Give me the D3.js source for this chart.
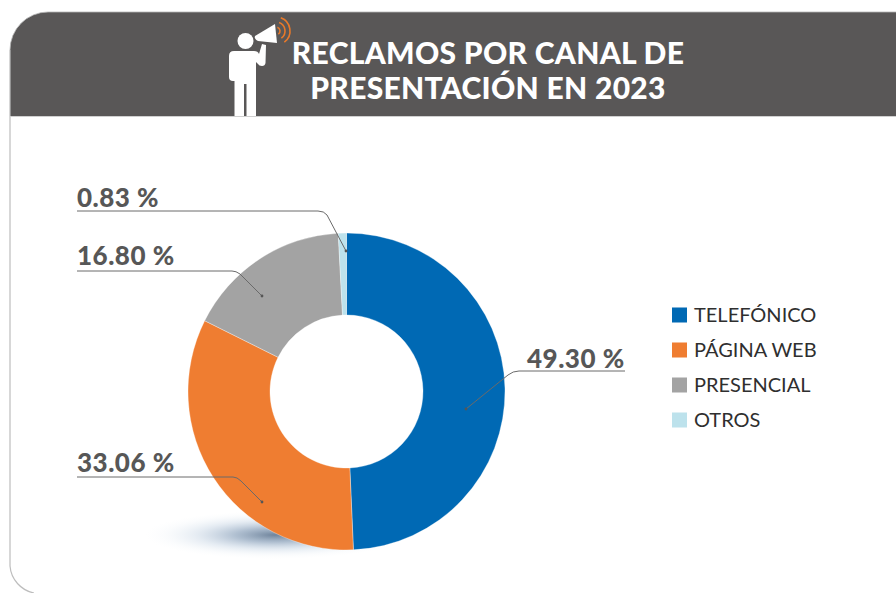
<!DOCTYPE html>
<html><head><meta charset="utf-8">
<script src="https://cdn.jsdelivr.net/npm/d3@7"></script>
<style>html,body{margin:0;padding:0;background:#fff;overflow:hidden}svg{display:block}text{font-family:Lato,sans-serif}</style>
</head><body><svg id="c" width="896" height="593"></svg>
<script>
const categories=["TELEFÓNICO","PÁGINA WEB","PRESENCIAL","OTROS"];
const values=[49.30,33.06,16.80,0.83];
const labels=["49.30 %","33.06 %","16.80 %","0.83 %"];
const colors=["#0069b4","#ef7d31","#a3a3a3","#bde2ec"];
const titleLines=["RECLAMOS POR CANAL DE","PRESENTACIÓN EN 2023"];

const svg=d3.select("#c");
const defs=svg.append("defs");
const grad=defs.append("radialGradient").attr("id","sh");
[[0,"#5f7690",.9],[.3,"#7f98b4",.62],[.6,"#a9bfd6",.3],[.85,"#d3e0ec",.1],[1,"#e6eef5",0]].forEach(s=>grad.append("stop").attr("offset",s[0]).attr("stop-color",s[1]).attr("stop-opacity",s[2]));

// panel
svg.append("path").attr("d","M10 117V50a38 38 0 0 1 38-38H896V117Z").attr("fill","#595757");
svg.append("path").attr("d","M10 50a38 38 0 0 1 38-38H896").attr("fill","none").attr("stroke","#b5b5b5").attr("stroke-width",.8);
svg.append("path").attr("d","M10 50V566a30 30 0 0 0 24 27").attr("fill","none").attr("stroke","#bdbdbd").attr("stroke-width",1.2);
svg.append("path").attr("d","M10 116.500H896").attr("stroke","#d0d0d0").attr("stroke-width",1);

// title
svg.append("g").selectAll("text").data(titleLines).join("text")
 .attr("x",488).attr("y",(d,i)=>64+i*35).attr("text-anchor","middle")
 .attr("fill","#fff").attr("font-weight",900).attr("font-size",30).attr("letter-spacing",.3).text(d=>d);

// icon
const ic=svg.append("g").attr("fill","#fff");
ic.append("circle").attr("cx",245.5).attr("cy",41).attr("r",8);
ic.append("path").attr("d","M234 51H254Q258 51 259 54L262 44L266 45L265.500 63Q265 66 262 66Q259 66 258 64L256 62V116H246.500V84H244V116H234.500V81H233Q229 81 229 77V56Q229 51 234 51Z");
ic.append("path").attr("d","M255 36L275 24L277 43L258 41Q254 39 255 36Z");
const w=svg.append("g").attr("fill","none").attr("stroke","#e8792a").attr("stroke-width",1.6);
[4,9,14].forEach(r=>w.append("path").attr("d",d3.arc()({innerRadius:r,outerRadius:r,startAngle:.35,endAngle:2.5})).attr("transform","translate(276,31)"));

// shadow
svg.append("ellipse").attr("cx",275).attr("cy",535).attr("rx",130).attr("ry",24).attr("fill","url(#sh)");

// pie
const cx=346.5,cy=391.5,R=158.5,r0=76.5;
const pie=d3.pie().sort(null).value(d=>d)(values);
const arc=d3.arc().innerRadius(r0).outerRadius(R);
const g=svg.append("g").attr("transform",`translate(${cx},${cy})`);
g.selectAll("path").data(pie).join("path").attr("d",arc).attr("fill",(d,i)=>colors[i]).attr("stroke","#fff").attr("stroke-opacity",.55).attr("stroke-width",.6);

// leaders
const leaders=[
 {t:[527,368],l:"M625 371H519Q513 371 508 375L466 409",a:[466,409]},
 {t:[77,472],l:"M77 477H233Q237 477 241 481L262 502",a:[262,502]},
 {t:[77,265],l:"M77 271H232Q236 271 240 274L262 296",a:[262,296]},
 {t:[77,207],l:"M77 211H318Q324 211 327 215L346 251",a:[346,251]}
];
const L=svg.append("g");
leaders.forEach((d,i)=>{
 L.append("path").attr("d",d.l).attr("fill","none").attr("stroke","#6a6a6a").attr("stroke-width",1);
 L.append("circle").attr("cx",d.a[0]).attr("cy",d.a[1]).attr("r",1.4).attr("fill","#555");
 L.append("text").attr("x",d.t[0]).attr("y",d.t[1]).attr("fill","#575757").attr("font-weight",900).attr("font-size",26).attr("letter-spacing",.5).text(labels[i]);
});

// legend
const y=d3.scalePoint().domain(categories).range([315,420]);
const lg=svg.append("g").selectAll("g").data(categories).join("g").attr("transform",d=>`translate(0,${y(d)})`);
lg.append("rect").attr("x",672).attr("y",-7.500).attr("width",15).attr("height",15).attr("fill",(d,i)=>colors[i]);
lg.append("text").attr("x",694).attr("y",7).attr("fill","#2f2f2f").attr("font-size",20).text(d=>d);
</script></body></html>
